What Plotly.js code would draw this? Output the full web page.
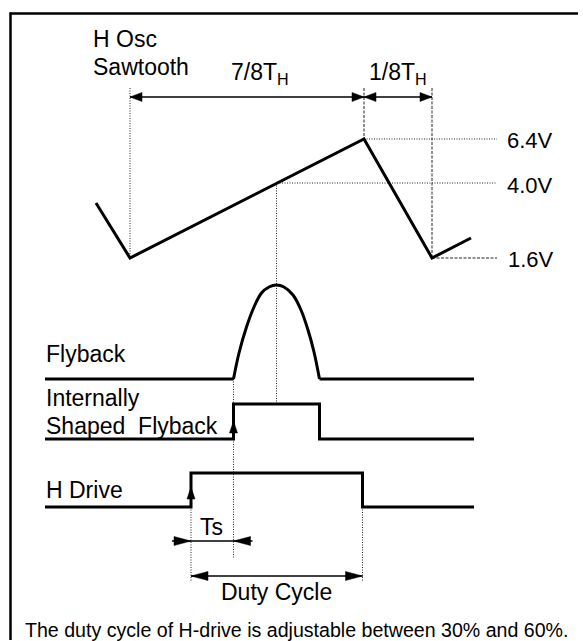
<!DOCTYPE html>
<html>
<head>
<meta charset="utf-8">
<script src="https://cdn.plot.ly/plotly-3.0.1.min.js"></script>
<style>html,body{margin:0;padding:0;background:#fff;overflow:hidden;}#chart{width:583px;height:641px;}</style>
</head>
<body>
<div id="chart"></div>
<script>
// ---- Diagram data (time position, signal level in diagram units) ----
// H oscillator sawtooth
const sawT = [96, 130, 364, 432, 471];
const sawL = [203, 258, 139, 258, 238];
// Flyback pulse (flat parts and bump)
const flyFlatT1 = [45, 233.5];
const flyFlatT2 = [319.5, 474];
const flyBase = 379;
const flyBumpT = [233.5, 239, 246.5, 254, 261.5, 269, 276.5, 284, 293, 301, 308, 314, 319.5];
const flyBumpL = [379, 353, 327, 307, 293, 287, 285, 287, 295, 310, 330, 352, 379];
// Internally shaped flyback
const isfT = [45, 233.5, 233.5, 319.5, 319.5, 474];
const isfL = [439, 439, 404, 404, 439, 439];
// H drive
const hdT = [45, 191, 191, 362.5, 362.5, 474];
const hdL = [507, 507, 473, 473, 507, 507];
// Voltage levels
const levelNames = ['6.4V', '4.0V', '1.6V'];
const levelL = [139, 183, 258];
const levelFromT = [364, 277, 432];
const levelToT = 497;
// Timing marks
const sawStartT = 130, sawPeakT = 364, sawEndT = 432;
const flyPeakT = 276.5;
const tsStart = 191, tsEnd = 233.5;
const dutyStart = 191, dutyEnd = 362.5;
// Labels
const signalNames = ['H Osc', 'Sawtooth', 'Flyback', 'Internally', 'Shaped  Flyback', 'H Drive'];
const caption = 'The duty cycle of H-drive is adjustable between 30% and 60%.';

const FONT = 'Liberation Sans, Arial, Helvetica, sans-serif';
const traces = [];
function line(x, y, opts) {
  opts = opts || {};
  traces.push({
    type: 'scatter', mode: 'lines', x: x, y: y, hoverinfo: 'skip',
    line: {color: opts.color || '#000', width: opts.width || 3, dash: opts.dash || 'solid', shape: opts.shape || 'linear', smoothing: opts.smoothing || 1}
  });
}
function head(tx, ty, dir, len, half) {
  len = len || 12; half = half || 4.5;
  let xs, ys;
  if (dir === 'R') { xs = [tx, tx - len, tx - len, tx]; ys = [ty, ty - half, ty + half, ty]; }
  else if (dir === 'L') { xs = [tx, tx + len, tx + len, tx]; ys = [ty, ty - half, ty + half, ty]; }
  else { xs = [tx, tx - half, tx + half, tx]; ys = [ty, ty + len, ty + len, ty]; }
  traces.push({type: 'scatter', mode: 'lines', x: xs, y: ys, fill: 'toself', fillcolor: '#000', line: {color: '#000', width: 0.5}, hoverinfo: 'skip'});
}
const DOT = '1px,1.5px';
const DASH = '3px,1.5px';
const GUIDE = '#222';

// frame: open to the right and bottom, as cropped in the reference
line([10.5, 578], [13.5, 13.5], {width: 2.5});
line([10.5, 10.5], [12.3, 640], {width: 2.5});

// guides
line([sawStartT, sawStartT], [88, sawL[1]], {width: 1, dash: DOT, color: GUIDE});
line([sawPeakT, sawPeakT], [88, levelL[0]], {width: 1, dash: DASH, color: GUIDE});
line([sawEndT, sawEndT], [88, levelL[2]], {width: 1, dash: DASH, color: GUIDE});
line([levelFromT[0], levelToT], [levelL[0], levelL[0]], {width: 1, dash: DOT, color: GUIDE});
line([levelFromT[1], levelToT], [levelL[1], levelL[1]], {width: 1, dash: DOT, color: GUIDE});
line([levelFromT[2], levelToT], [levelL[2], levelL[2]], {width: 1, dash: DASH, color: GUIDE});
line([flyPeakT, flyPeakT], [levelL[1], isfL[2]], {width: 1, dash: DOT, color: GUIDE});
line([tsEnd, tsEnd], [flyBase, 558], {width: 1, dash: DOT, color: GUIDE});
line([dutyStart, dutyStart], [hdL[0], 582], {width: 1, dash: DOT, color: GUIDE});
line([dutyEnd, dutyEnd], [hdL[0], 582], {width: 1, dash: DOT, color: GUIDE});

// signals
line(sawT, sawL, {width: 3});
line(flyFlatT1, [flyBase, flyBase], {width: 3});
line(flyFlatT2, [flyBase, flyBase], {width: 3});
line(flyBumpT, flyBumpL, {width: 3, shape: 'spline', smoothing: 1});
line(isfT, isfL, {width: 3});
line(hdT, hdL, {width: 3});

// dimension arrows (top)
const arrY = 97;
line([sawStartT, sawPeakT], [arrY, arrY], {width: 1.5});
head(sawStartT, arrY, 'L', 12, 4.5);
head(sawPeakT, arrY, 'R', 12, 4.5);
line([sawPeakT, sawEndT], [arrY, arrY], {width: 1.5});
head(sawPeakT, arrY, 'L', 12, 4.5);
head(sawEndT, arrY, 'R', 12, 4.5);

// edge arrows
head(isfT[1], 421, 'U', 12, 4);
head(hdT[1], 487, 'U', 12, 4);

// Ts arrows
const tsY = 541;
line([tsStart - 19, tsEnd + 19], [tsY, tsY], {width: 1.5});
head(tsStart, tsY, 'R', 17, 4.5);
head(tsEnd, tsY, 'L', 17, 4.5);

// duty cycle arrows
const dutyY = 576;
line([dutyStart, dutyEnd], [dutyY, dutyY], {width: 1.5});
head(dutyStart, dutyY, 'L', 17, 4.5);
head(dutyEnd, dutyY, 'R', 17, 4.5);

// text
const ann = [];
function txt(s, x, baseline, fs, anchor) {
  ann.push({text: s, x: x, y: baseline - 0.35 * fs, xref: 'x', yref: 'y', showarrow: false,
    xanchor: anchor || 'left', yanchor: 'middle', font: {family: FONT, size: fs, color: '#000'}, borderpad: 0});
}
const FS = 23;
txt(signalNames[0], 92, 47, FS);
txt(signalNames[1], 92, 75, FS);
txt('7/8T<sub>H</sub>', 230, 82, FS);
txt('1/8T<sub>H</sub>', 368, 82, FS);
txt(levelNames[0], 506, levelL[0] + 9, 22);
txt(levelNames[1], 506, levelL[1] + 10, 22);
txt(levelNames[2], 507, levelL[2] + 9, 22);
txt(signalNames[2], 45, 362, FS);
txt(signalNames[3], 45, 406, FS);
txt(signalNames[4], 45, 434, FS);
txt(signalNames[5], 45, 498, FS);
txt('Ts', 211, 535, FS, 'center');
txt('Duty Cycle', 276, 600, FS, 'center');
txt(caption, 24, 637, 19.6);

const layout = {
  width: 583, height: 641,
  margin: {l: 0, r: 0, t: 0, b: 0, pad: 0},
  paper_bgcolor: '#fff', plot_bgcolor: '#fff',
  showlegend: false,
  xaxis: {range: [0, 583], visible: false},
  yaxis: {range: [641, 0], visible: false},
  annotations: ann
};
Plotly.newPlot('chart', traces, layout, {staticPlot: true, displayModeBar: false});
</script>
</body>
</html>
